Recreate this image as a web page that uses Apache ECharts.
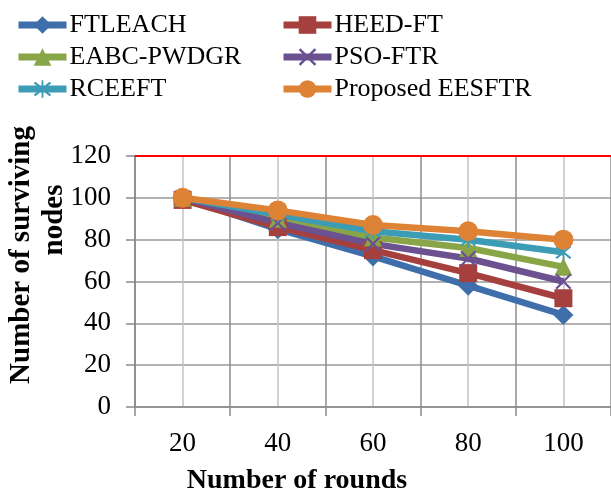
<!DOCTYPE html>
<html>
<head>
<meta charset="utf-8">
<script src="https://cdn.jsdelivr.net/npm/echarts@6/dist/echarts.min.js"></script>
<style>html,body{margin:0;padding:0;background:#fff;}#c{width:611px;height:497px;}</style>
</head>
<body>
<div id="c"></div>
<script>
const categories = ['20', '40', '60', '80', '100'];
const ftleach = [100, 85, 72, 58, 44];
const heedFt = [99, 86, 75, 64, 52];
const eabcPwdgr = [100, 90, 81, 76, 67];
const psoFtr = [100, 88, 78, 71, 60];
const rceeft = [100, 92, 84, 80, 74];
const proposed = [100, 94, 87, 84, 80];
const yTicks = [0, 20, 40, 60, 80, 100, 120];

const FONT = 'Liberation Serif';
const xPath = 'path://M0,2 L2,0 L10,8 L18,0 L20,2 L12,10 L20,18 L18,20 L10,12 L2,20 L0,18 L8,10 Z';
const starPath = 'path://M0,2 L2,0 L10,8 L18,0 L20,2 L12,10 L20,18 L18,20 L10,12 L2,20 L0,18 L8,10 Z M9,-2 L11,-2 L11,22 L9,22 Z';

const defs = [
  {name: 'FTLEACH', data: ftleach, color: '#3E6FAA', symbol: 'diamond', size: 20},
  {name: 'HEED-FT', data: heedFt, color: '#A6403E', symbol: 'rect', size: 18},
  {name: 'EABC-PWDGR', data: eabcPwdgr, color: '#88A548', symbol: 'triangle', size: 18},
  {name: 'PSO-FTR', data: psoFtr, color: '#6C5190', symbol: xPath, size: 16},
  {name: 'RCEEFT', data: rceeft, color: '#3C9CB5', symbol: starPath, size: 16},
  {name: 'Proposed EESFTR', data: proposed, color: '#DE8336', symbol: 'circle', size: 20}
];

const chart = echarts.init(document.getElementById('c'), null, {renderer: 'canvas'});
const legendBase = {
  orient: 'vertical', top: 7, itemWidth: 48, itemHeight: 22, itemGap: 6,
  lineStyle: {width: 7},
  textStyle: {fontFamily: FONT, fontSize: 26, color: '#000', padding: [0, 0, 0, -2]},
  selectedMode: false
};
chart.setOption({
  animation: false,
  backgroundColor: '#fff',
  legend: [
    Object.assign({}, legendBase, {left: 10, data: ['FTLEACH', 'EABC-PWDGR', 'RCEEFT']}),
    Object.assign({}, legendBase, {left: 275, data: ['HEED-FT', 'PSO-FTR', 'Proposed EESFTR']})
  ],
  grid: {left: 135, top: 156, width: 482, height: 251, containLabel: false},
  xAxis: [
    {
      type: 'category', data: categories, boundaryGap: true, position: 'bottom',
      axisLine: {show: true, lineStyle: {color: '#8a8a8a', width: 1.5}},
      axisTick: {show: true, length: 9, alignWithLabel: false, lineStyle: {color: '#8a8a8a', width: 1.5}},
      axisLabel: {fontFamily: FONT, fontSize: 27, color: '#000', margin: 23},
      splitLine: {show: true, lineStyle: {color: '#8c8c8c', width: 1.5}}
    },
    {
      type: 'value', min: 0, max: 100, interval: 20, position: 'top',
      axisLine: {show: true, onZero: false, lineStyle: {color: '#ff0000', width: 2}},
      axisTick: {show: false}, axisLabel: {show: false},
      splitLine: {show: false},
      minorTick: {show: false, splitNumber: 2},
      minorSplitLine: {show: true, lineStyle: {color: '#c4c4c4', width: 1.5}}
    }
  ],
  yAxis: {
    type: 'value', min: yTicks[0], max: yTicks[yTicks.length - 1], interval: 20,
    axisLine: {show: true, lineStyle: {color: '#8a8a8a', width: 1.5}},
    axisTick: {show: true, length: 9, lineStyle: {color: '#8a8a8a', width: 1.5}},
    axisLabel: {fontFamily: FONT, fontSize: 27, color: '#000', margin: 24},
    splitLine: {show: true, lineStyle: {color: '#999', width: 1.5}}
  },
  graphic: [
    {type: 'text', x: 297, y: 481,
     style: {text: 'Number of rounds', fontFamily: FONT, fontSize: 28, fontWeight: 'bold', fill: '#000',
             align: 'center', verticalAlign: 'middle'}},
    {type: 'text', x: 22, y: 255, rotation: Math.PI / 2,
     style: {text: 'Number of surviving', fontFamily: FONT, fontSize: 29, fontWeight: 'bold', fill: '#000',
             align: 'center', verticalAlign: 'middle'}},
    {type: 'text', x: 55, y: 220, rotation: Math.PI / 2,
     style: {text: 'nodes', fontFamily: FONT, fontSize: 29, fontWeight: 'bold', fill: '#000',
             align: 'center', verticalAlign: 'middle'}}
  ],
  series: defs.map(d => ({
    name: d.name, type: 'line', xAxisIndex: 0, data: d.data,
    symbol: d.symbol, symbolSize: d.size, showSymbol: true,
    lineStyle: {color: d.color, width: 6.5},
    itemStyle: {color: d.color, borderWidth: 0},
    color: d.color
  }))
});
</script>
</body>
</html>
